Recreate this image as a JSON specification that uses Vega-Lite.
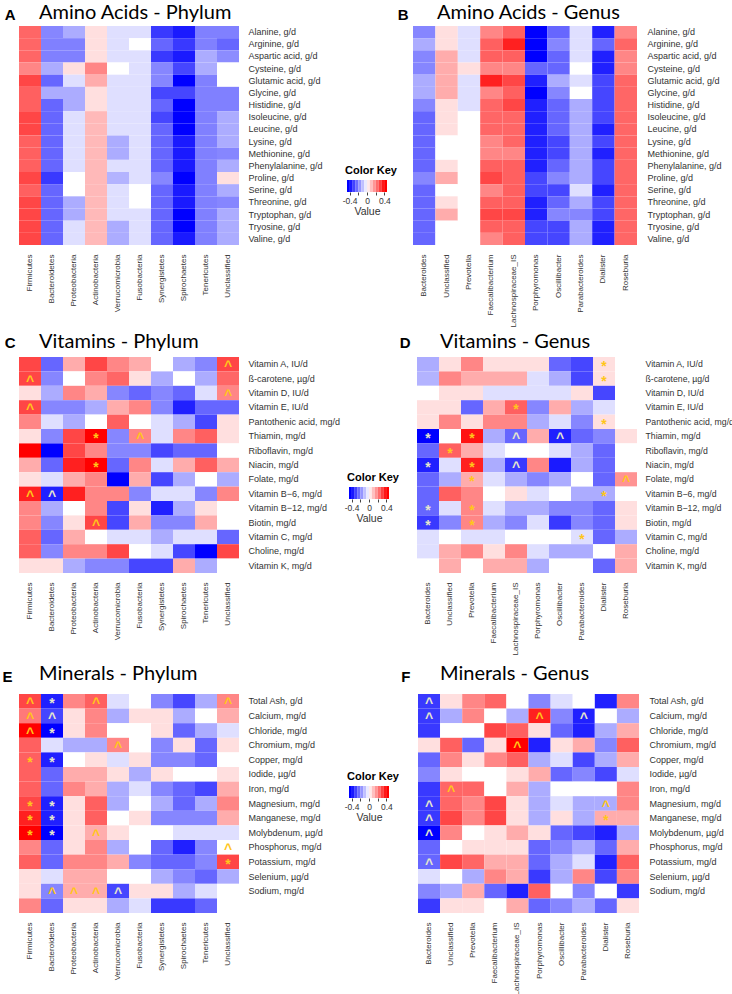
{
"$schema":"https://vega.github.io/schema/vega-lite/v6.json",
"autosize":{"type":"pad"},
"padding":{"left":1,"top":3,"right":0,"bottom":0},
"background":"white",
"config":{
 "view":{"stroke":null},
 "axis":{"grid":false,"ticks":false,"domain":false,"labelFont":"Liberation Sans","labelColor":"#333333","labelOverlap":false,"titleFont":"Liberation Sans"},
 "title":{"font":"Lato","fontSize":20,"fontWeight":"normal","color":"#000000","frame":"group","anchor":"start"}
},
"datasets":{
"key":[{"lo":-0.46,"hi":-0.394,"v":-0.427},{"lo":-0.394,"hi":-0.329,"v":-0.362},{"lo":-0.329,"hi":-0.263,"v":-0.296},{"lo":-0.263,"hi":-0.197,"v":-0.23},{"lo":-0.197,"hi":-0.131,"v":-0.164},{"lo":-0.131,"hi":-0.066,"v":-0.099},{"lo":-0.066,"hi":0,"v":-0.033},{"lo":0,"hi":0.066,"v":0.033},{"lo":0.066,"hi":0.131,"v":0.099},{"lo":0.131,"hi":0.197,"v":0.164},{"lo":0.197,"hi":0.263,"v":0.23},{"lo":0.263,"hi":0.329,"v":0.296},{"lo":0.329,"hi":0.394,"v":0.362},{"lo":0.394,"hi":0.46,"v":0.427}],
"A":[
{"r":1,"c":1,"v":0.24},{"r":1,"c":2,"v":-0.19},{"r":1,"c":3,"v":-0.13},{"r":1,"c":4,"v":0.05},{"r":1,"c":5,"v":-0.05},{"r":1,"c":6,"v":-0.05},{"r":1,"c":7,"v":-0.31},{"r":1,"c":8,"v":-0.36},{"r":1,"c":9,"v":-0.2},{"r":1,"c":10,"v":-0.2},
{"r":2,"c":1,"v":0.24},{"r":2,"c":2,"v":-0.2},{"r":2,"c":3,"v":-0.2},{"r":2,"c":4,"v":0.05},{"r":2,"c":5,"v":-0.05},{"r":2,"c":6,"v":0},{"r":2,"c":7,"v":-0.24},{"r":2,"c":8,"v":-0.31},{"r":2,"c":9,"v":-0.2},{"r":2,"c":10,"v":-0.24},
{"r":3,"c":1,"v":0.24},{"r":3,"c":2,"v":-0.2},{"r":3,"c":3,"v":-0.2},{"r":3,"c":4,"v":0.05},{"r":3,"c":5,"v":-0.05},{"r":3,"c":6,"v":-0.05},{"r":3,"c":7,"v":-0.31},{"r":3,"c":8,"v":-0.36},{"r":3,"c":9,"v":-0.13},{"r":3,"c":10,"v":-0.18},
{"r":4,"c":1,"v":0.19},{"r":4,"c":2,"v":-0.13},{"r":4,"c":3,"v":0.05},{"r":4,"c":4,"v":0.19},{"r":4,"c":5,"v":0},{"r":4,"c":6,"v":-0.05},{"r":4,"c":7,"v":-0.19},{"r":4,"c":8,"v":-0.29},{"r":4,"c":9,"v":-0.13},{"r":4,"c":10,"v":0},
{"r":5,"c":1,"v":0.29},{"r":5,"c":2,"v":-0.24},{"r":5,"c":3,"v":-0.05},{"r":5,"c":4,"v":0.13},{"r":5,"c":5,"v":-0.05},{"r":5,"c":6,"v":-0.05},{"r":5,"c":7,"v":-0.19},{"r":5,"c":8,"v":-0.4},{"r":5,"c":9,"v":-0.2},{"r":5,"c":10,"v":0},
{"r":6,"c":1,"v":0.25},{"r":6,"c":2,"v":-0.13},{"r":6,"c":3,"v":-0.13},{"r":6,"c":4,"v":0.05},{"r":6,"c":5,"v":-0.05},{"r":6,"c":6,"v":-0.05},{"r":6,"c":7,"v":-0.29},{"r":6,"c":8,"v":-0.29},{"r":6,"c":9,"v":-0.2},{"r":6,"c":10,"v":-0.2},
{"r":7,"c":1,"v":0.25},{"r":7,"c":2,"v":-0.24},{"r":7,"c":3,"v":-0.13},{"r":7,"c":4,"v":0.05},{"r":7,"c":5,"v":-0.05},{"r":7,"c":6,"v":-0.05},{"r":7,"c":7,"v":-0.24},{"r":7,"c":8,"v":-0.4},{"r":7,"c":9,"v":-0.2},{"r":7,"c":10,"v":-0.2},
{"r":8,"c":1,"v":0.29},{"r":8,"c":2,"v":-0.24},{"r":8,"c":3,"v":-0.05},{"r":8,"c":4,"v":0.11},{"r":8,"c":5,"v":-0.05},{"r":8,"c":6,"v":-0.05},{"r":8,"c":7,"v":-0.29},{"r":8,"c":8,"v":-0.4},{"r":8,"c":9,"v":-0.2},{"r":8,"c":10,"v":-0.13},
{"r":9,"c":1,"v":0.29},{"r":9,"c":2,"v":-0.24},{"r":9,"c":3,"v":-0.05},{"r":9,"c":4,"v":0.11},{"r":9,"c":5,"v":-0.05},{"r":9,"c":6,"v":-0.05},{"r":9,"c":7,"v":-0.24},{"r":9,"c":8,"v":-0.4},{"r":9,"c":9,"v":-0.2},{"r":9,"c":10,"v":-0.13},
{"r":10,"c":1,"v":0.25},{"r":10,"c":2,"v":-0.24},{"r":10,"c":3,"v":-0.05},{"r":10,"c":4,"v":0.11},{"r":10,"c":5,"v":-0.13},{"r":10,"c":6,"v":-0.05},{"r":10,"c":7,"v":-0.24},{"r":10,"c":8,"v":-0.36},{"r":10,"c":9,"v":-0.2},{"r":10,"c":10,"v":-0.13},
{"r":11,"c":1,"v":0.25},{"r":11,"c":2,"v":-0.24},{"r":11,"c":3,"v":-0.05},{"r":11,"c":4,"v":0.11},{"r":11,"c":5,"v":-0.13},{"r":11,"c":6,"v":-0.05},{"r":11,"c":7,"v":-0.24},{"r":11,"c":8,"v":-0.36},{"r":11,"c":9,"v":-0.2},{"r":11,"c":10,"v":-0.19},
{"r":12,"c":1,"v":0.25},{"r":12,"c":2,"v":-0.24},{"r":12,"c":3,"v":-0.05},{"r":12,"c":4,"v":0.11},{"r":12,"c":5,"v":-0.05},{"r":12,"c":6,"v":-0.05},{"r":12,"c":7,"v":-0.24},{"r":12,"c":8,"v":-0.36},{"r":12,"c":9,"v":-0.2},{"r":12,"c":10,"v":-0.13},
{"r":13,"c":1,"v":0.29},{"r":13,"c":2,"v":-0.31},{"r":13,"c":3,"v":0},{"r":13,"c":4,"v":0.11},{"r":13,"c":5,"v":-0.12},{"r":13,"c":6,"v":-0.05},{"r":13,"c":7,"v":-0.19},{"r":13,"c":8,"v":-0.4},{"r":13,"c":9,"v":-0.2},{"r":13,"c":10,"v":0.05},
{"r":14,"c":1,"v":0.25},{"r":14,"c":2,"v":-0.24},{"r":14,"c":3,"v":0},{"r":14,"c":4,"v":0.11},{"r":14,"c":5,"v":-0.05},{"r":14,"c":6,"v":0},{"r":14,"c":7,"v":-0.24},{"r":14,"c":8,"v":-0.36},{"r":14,"c":9,"v":-0.2},{"r":14,"c":10,"v":-0.13},
{"r":15,"c":1,"v":0.29},{"r":15,"c":2,"v":-0.24},{"r":15,"c":3,"v":-0.13},{"r":15,"c":4,"v":0.11},{"r":15,"c":5,"v":-0.05},{"r":15,"c":6,"v":0},{"r":15,"c":7,"v":-0.24},{"r":15,"c":8,"v":-0.36},{"r":15,"c":9,"v":-0.2},{"r":15,"c":10,"v":-0.19},
{"r":16,"c":1,"v":0.29},{"r":16,"c":2,"v":-0.24},{"r":16,"c":3,"v":-0.13},{"r":16,"c":4,"v":0.11},{"r":16,"c":5,"v":-0.05},{"r":16,"c":6,"v":-0.05},{"r":16,"c":7,"v":-0.24},{"r":16,"c":8,"v":-0.4},{"r":16,"c":9,"v":-0.2},{"r":16,"c":10,"v":-0.13},
{"r":17,"c":1,"v":0.29},{"r":17,"c":2,"v":-0.24},{"r":17,"c":3,"v":-0.05},{"r":17,"c":4,"v":0.11},{"r":17,"c":5,"v":-0.13},{"r":17,"c":6,"v":-0.05},{"r":17,"c":7,"v":-0.24},{"r":17,"c":8,"v":-0.4},{"r":17,"c":9,"v":-0.2},{"r":17,"c":10,"v":-0.13},
{"r":18,"c":1,"v":0.29},{"r":18,"c":2,"v":-0.24},{"r":18,"c":3,"v":-0.05},{"r":18,"c":4,"v":0.11},{"r":18,"c":5,"v":-0.13},{"r":18,"c":6,"v":-0.05},{"r":18,"c":7,"v":-0.24},{"r":18,"c":8,"v":-0.36},{"r":18,"c":9,"v":-0.2},{"r":18,"c":10,"v":-0.13}
],
"B":[
{"r":1,"c":1,"v":-0.19},{"r":1,"c":2,"v":0.05},{"r":1,"c":3,"v":-0.05},{"r":1,"c":4,"v":0.19},{"r":1,"c":5,"v":0.25},{"r":1,"c":6,"v":-0.4},{"r":1,"c":7,"v":-0.24},{"r":1,"c":8,"v":-0.05},{"r":1,"c":9,"v":-0.35},{"r":1,"c":10,"v":0.19},
{"r":2,"c":1,"v":-0.13},{"r":2,"c":2,"v":0.05},{"r":2,"c":3,"v":-0.05},{"r":2,"c":4,"v":0.25},{"r":2,"c":5,"v":0.35},{"r":2,"c":6,"v":-0.4},{"r":2,"c":7,"v":-0.19},{"r":2,"c":8,"v":-0.05},{"r":2,"c":9,"v":-0.24},{"r":2,"c":10,"v":0.24},
{"r":3,"c":1,"v":-0.19},{"r":3,"c":2,"v":0.13},{"r":3,"c":3,"v":-0.05},{"r":3,"c":4,"v":0.25},{"r":3,"c":5,"v":0.25},{"r":3,"c":6,"v":-0.4},{"r":3,"c":7,"v":-0.24},{"r":3,"c":8,"v":-0.05},{"r":3,"c":9,"v":-0.35},{"r":3,"c":10,"v":0.19},
{"r":4,"c":1,"v":-0.19},{"r":4,"c":2,"v":0.13},{"r":4,"c":3,"v":0.05},{"r":4,"c":4,"v":0.19},{"r":4,"c":5,"v":0.19},{"r":4,"c":6,"v":-0.24},{"r":4,"c":7,"v":-0.24},{"r":4,"c":8,"v":0},{"r":4,"c":9,"v":-0.35},{"r":4,"c":10,"v":0.19},
{"r":5,"c":1,"v":-0.13},{"r":5,"c":2,"v":0.13},{"r":5,"c":3,"v":-0.05},{"r":5,"c":4,"v":0.35},{"r":5,"c":5,"v":0.29},{"r":5,"c":6,"v":-0.35},{"r":5,"c":7,"v":-0.13},{"r":5,"c":8,"v":-0.05},{"r":5,"c":9,"v":-0.29},{"r":5,"c":10,"v":0.24},
{"r":6,"c":1,"v":-0.13},{"r":6,"c":2,"v":0.13},{"r":6,"c":3,"v":-0.05},{"r":6,"c":4,"v":0.19},{"r":6,"c":5,"v":0.25},{"r":6,"c":6,"v":-0.4},{"r":6,"c":7,"v":-0.19},{"r":6,"c":8,"v":0},{"r":6,"c":9,"v":-0.29},{"r":6,"c":10,"v":0.24},
{"r":7,"c":1,"v":-0.19},{"r":7,"c":2,"v":0.05},{"r":7,"c":3,"v":-0.05},{"r":7,"c":4,"v":0.24},{"r":7,"c":5,"v":0.29},{"r":7,"c":6,"v":-0.35},{"r":7,"c":7,"v":-0.24},{"r":7,"c":8,"v":-0.13},{"r":7,"c":9,"v":-0.29},{"r":7,"c":10,"v":0.24},
{"r":8,"c":1,"v":-0.24},{"r":8,"c":2,"v":0.05},{"r":8,"c":3,"v":0},{"r":8,"c":4,"v":0.24},{"r":8,"c":5,"v":0.24},{"r":8,"c":6,"v":-0.35},{"r":8,"c":7,"v":-0.24},{"r":8,"c":8,"v":-0.13},{"r":8,"c":9,"v":-0.29},{"r":8,"c":10,"v":0.24},
{"r":9,"c":1,"v":-0.24},{"r":9,"c":2,"v":0.05},{"r":9,"c":3,"v":0},{"r":9,"c":4,"v":0.24},{"r":9,"c":5,"v":0.24},{"r":9,"c":6,"v":-0.35},{"r":9,"c":7,"v":-0.24},{"r":9,"c":8,"v":-0.13},{"r":9,"c":9,"v":-0.35},{"r":9,"c":10,"v":0.24},
{"r":10,"c":1,"v":-0.24},{"r":10,"c":2,"v":0},{"r":10,"c":3,"v":0},{"r":10,"c":4,"v":0.19},{"r":10,"c":5,"v":0.24},{"r":10,"c":6,"v":-0.35},{"r":10,"c":7,"v":-0.29},{"r":10,"c":8,"v":-0.13},{"r":10,"c":9,"v":-0.29},{"r":10,"c":10,"v":0.24},
{"r":11,"c":1,"v":-0.24},{"r":11,"c":2,"v":0},{"r":11,"c":3,"v":0},{"r":11,"c":4,"v":0.19},{"r":11,"c":5,"v":0.19},{"r":11,"c":6,"v":-0.35},{"r":11,"c":7,"v":-0.29},{"r":11,"c":8,"v":-0.13},{"r":11,"c":9,"v":-0.35},{"r":11,"c":10,"v":0.24},
{"r":12,"c":1,"v":-0.24},{"r":12,"c":2,"v":0.05},{"r":12,"c":3,"v":0},{"r":12,"c":4,"v":0.25},{"r":12,"c":5,"v":0.25},{"r":12,"c":6,"v":-0.35},{"r":12,"c":7,"v":-0.24},{"r":12,"c":8,"v":-0.13},{"r":12,"c":9,"v":-0.29},{"r":12,"c":10,"v":0.24},
{"r":13,"c":1,"v":-0.19},{"r":13,"c":2,"v":0.13},{"r":13,"c":3,"v":0},{"r":13,"c":4,"v":0.29},{"r":13,"c":5,"v":0.25},{"r":13,"c":6,"v":-0.29},{"r":13,"c":7,"v":-0.19},{"r":13,"c":8,"v":-0.13},{"r":13,"c":9,"v":-0.29},{"r":13,"c":10,"v":0.24},
{"r":14,"c":1,"v":-0.24},{"r":14,"c":2,"v":0},{"r":14,"c":3,"v":0},{"r":14,"c":4,"v":0.19},{"r":14,"c":5,"v":0.25},{"r":14,"c":6,"v":-0.29},{"r":14,"c":7,"v":-0.29},{"r":14,"c":8,"v":-0.05},{"r":14,"c":9,"v":-0.35},{"r":14,"c":10,"v":0.24},
{"r":15,"c":1,"v":-0.24},{"r":15,"c":2,"v":0.05},{"r":15,"c":3,"v":0},{"r":15,"c":4,"v":0.25},{"r":15,"c":5,"v":0.25},{"r":15,"c":6,"v":-0.35},{"r":15,"c":7,"v":-0.24},{"r":15,"c":8,"v":-0.13},{"r":15,"c":9,"v":-0.29},{"r":15,"c":10,"v":0.24},
{"r":16,"c":1,"v":-0.24},{"r":16,"c":2,"v":0.13},{"r":16,"c":3,"v":0},{"r":16,"c":4,"v":0.29},{"r":16,"c":5,"v":0.29},{"r":16,"c":6,"v":-0.35},{"r":16,"c":7,"v":-0.19},{"r":16,"c":8,"v":-0.19},{"r":16,"c":9,"v":-0.29},{"r":16,"c":10,"v":0.24},
{"r":17,"c":1,"v":-0.24},{"r":17,"c":2,"v":0},{"r":17,"c":3,"v":0},{"r":17,"c":4,"v":0.25},{"r":17,"c":5,"v":0.25},{"r":17,"c":6,"v":-0.29},{"r":17,"c":7,"v":-0.29},{"r":17,"c":8,"v":-0.13},{"r":17,"c":9,"v":-0.35},{"r":17,"c":10,"v":0.24},
{"r":18,"c":1,"v":-0.24},{"r":18,"c":2,"v":0},{"r":18,"c":3,"v":0},{"r":18,"c":4,"v":0.19},{"r":18,"c":5,"v":0.25},{"r":18,"c":6,"v":-0.29},{"r":18,"c":7,"v":-0.29},{"r":18,"c":8,"v":-0.13},{"r":18,"c":9,"v":-0.35},{"r":18,"c":10,"v":0.24}
],
"C":[
{"r":1,"c":1,"v":0.29},{"r":1,"c":2,"v":-0.24},{"r":1,"c":3,"v":0.13},{"r":1,"c":4,"v":0.29},{"r":1,"c":5,"v":0.19},{"r":1,"c":6,"v":0.13},{"r":1,"c":7,"v":0},{"r":1,"c":8,"v":-0.13},{"r":1,"c":9,"v":-0.19},{"r":1,"c":10,"v":0.29,"s":"^"},
{"r":2,"c":1,"v":0.29,"s":"^"},{"r":2,"c":2,"v":-0.19},{"r":2,"c":3,"v":0},{"r":2,"c":4,"v":0.19},{"r":2,"c":5,"v":0.24},{"r":2,"c":6,"v":0.05},{"r":2,"c":7,"v":-0.13},{"r":2,"c":8,"v":0},{"r":2,"c":9,"v":-0.13},{"r":2,"c":10,"v":0.24},
{"r":3,"c":1,"v":0.05},{"r":3,"c":2,"v":-0.13},{"r":3,"c":3,"v":0.19},{"r":3,"c":4,"v":0.13},{"r":3,"c":5,"v":-0.19},{"r":3,"c":6,"v":-0.24},{"r":3,"c":7,"v":-0.19},{"r":3,"c":8,"v":-0.24},{"r":3,"c":9,"v":-0.05},{"r":3,"c":10,"v":0.19,"s":"^"},
{"r":4,"c":1,"v":0.29,"s":"^"},{"r":4,"c":2,"v":-0.19},{"r":4,"c":3,"v":-0.19},{"r":4,"c":4,"v":-0.13},{"r":4,"c":5,"v":0.13},{"r":4,"c":6,"v":0.19},{"r":4,"c":7,"v":-0.19},{"r":4,"c":8,"v":-0.35},{"r":4,"c":9,"v":-0.24},{"r":4,"c":10,"v":-0.24},
{"r":5,"c":1,"v":0.19},{"r":5,"c":2,"v":-0.05},{"r":5,"c":3,"v":-0.13},{"r":5,"c":4,"v":0},{"r":5,"c":5,"v":0.25},{"r":5,"c":6,"v":0},{"r":5,"c":7,"v":-0.05},{"r":5,"c":8,"v":-0.13},{"r":5,"c":9,"v":-0.29},{"r":5,"c":10,"v":0.05},
{"r":6,"c":1,"v":0.05},{"r":6,"c":2,"v":-0.19},{"r":6,"c":3,"v":0.29},{"r":6,"c":4,"v":0.4,"s":"*"},{"r":6,"c":5,"v":-0.19},{"r":6,"c":6,"v":0.19,"s":"^"},{"r":6,"c":7,"v":-0.05},{"r":6,"c":8,"v":0.19},{"r":6,"c":9,"v":0.25},{"r":6,"c":10,"v":0.05},
{"r":7,"c":1,"v":0.4},{"r":7,"c":2,"v":-0.4},{"r":7,"c":3,"v":0.29},{"r":7,"c":4,"v":0.19},{"r":7,"c":5,"v":-0.19},{"r":7,"c":6,"v":-0.19},{"r":7,"c":7,"v":-0.29},{"r":7,"c":8,"v":-0.24},{"r":7,"c":9,"v":-0.24},{"r":7,"c":10,"v":0},
{"r":8,"c":1,"v":0.13},{"r":8,"c":2,"v":-0.24},{"r":8,"c":3,"v":0.35},{"r":8,"c":4,"v":0.4,"s":"*"},{"r":8,"c":5,"v":-0.24},{"r":8,"c":6,"v":0.19},{"r":8,"c":7,"v":-0.05},{"r":8,"c":8,"v":0.13},{"r":8,"c":9,"v":0.25},{"r":8,"c":10,"v":0.13},
{"r":9,"c":1,"v":0.05},{"r":9,"c":2,"v":-0.05},{"r":9,"c":3,"v":0.13},{"r":9,"c":4,"v":0.19},{"r":9,"c":5,"v":-0.4},{"r":9,"c":6,"v":0.13},{"r":9,"c":7,"v":-0.29},{"r":9,"c":8,"v":-0.13},{"r":9,"c":9,"v":0},{"r":9,"c":10,"v":-0.13},
{"r":10,"c":1,"v":0.35,"s":"^"},{"r":10,"c":2,"v":-0.35,"s":"^"},{"r":10,"c":3,"v":0.35},{"r":10,"c":4,"v":0.19},{"r":10,"c":5,"v":0.19},{"r":10,"c":6,"v":-0.19},{"r":10,"c":7,"v":-0.05},{"r":10,"c":8,"v":-0.05},{"r":10,"c":9,"v":-0.19},{"r":10,"c":10,"v":0.19},
{"r":11,"c":1,"v":0.19},{"r":11,"c":2,"v":-0.13},{"r":11,"c":3,"v":0},{"r":11,"c":4,"v":0.19},{"r":11,"c":5,"v":-0.29},{"r":11,"c":6,"v":0.05},{"r":11,"c":7,"v":-0.35},{"r":11,"c":8,"v":-0.13},{"r":11,"c":9,"v":0.05},{"r":11,"c":10,"v":0},
{"r":12,"c":1,"v":0.19},{"r":12,"c":2,"v":-0.19},{"r":12,"c":3,"v":0.05},{"r":12,"c":4,"v":0.29,"s":"^"},{"r":12,"c":5,"v":-0.29},{"r":12,"c":6,"v":0.13},{"r":12,"c":7,"v":-0.19},{"r":12,"c":8,"v":-0.19},{"r":12,"c":9,"v":0.13},{"r":12,"c":10,"v":0},
{"r":13,"c":1,"v":0.25},{"r":13,"c":2,"v":-0.24},{"r":13,"c":3,"v":0.13},{"r":13,"c":4,"v":0},{"r":13,"c":5,"v":-0.05},{"r":13,"c":6,"v":-0.05},{"r":13,"c":7,"v":-0.13},{"r":13,"c":8,"v":-0.05},{"r":13,"c":9,"v":-0.05},{"r":13,"c":10,"v":-0.24},
{"r":14,"c":1,"v":0.25},{"r":14,"c":2,"v":-0.19},{"r":14,"c":3,"v":0.19},{"r":14,"c":4,"v":0.19},{"r":14,"c":5,"v":0.29},{"r":14,"c":6,"v":0},{"r":14,"c":7,"v":-0.05},{"r":14,"c":8,"v":-0.29},{"r":14,"c":9,"v":-0.4},{"r":14,"c":10,"v":0.29},
{"r":15,"c":1,"v":0.05},{"r":15,"c":2,"v":0.05},{"r":15,"c":3,"v":-0.13},{"r":15,"c":4,"v":-0.19},{"r":15,"c":5,"v":-0.19},{"r":15,"c":6,"v":-0.29},{"r":15,"c":7,"v":-0.29},{"r":15,"c":8,"v":0.13},{"r":15,"c":9,"v":-0.13},{"r":15,"c":10,"v":0}
],
"D":[
{"r":1,"c":1,"v":-0.13},{"r":1,"c":2,"v":0.05},{"r":1,"c":3,"v":0.19},{"r":1,"c":4,"v":0.05},{"r":1,"c":5,"v":0.05},{"r":1,"c":6,"v":0.05},{"r":1,"c":7,"v":-0.24},{"r":1,"c":8,"v":-0.29},{"r":1,"c":9,"v":0.05,"s":"*"},{"r":1,"c":10,"v":0},
{"r":2,"c":1,"v":-0.12},{"r":2,"c":2,"v":0.19},{"r":2,"c":3,"v":0.13},{"r":2,"c":4,"v":0.13},{"r":2,"c":5,"v":0.13},{"r":2,"c":6,"v":-0.05},{"r":2,"c":7,"v":-0.13},{"r":2,"c":8,"v":-0.29},{"r":2,"c":9,"v":0.05,"s":"*"},{"r":2,"c":10,"v":0},
{"r":3,"c":1,"v":0},{"r":3,"c":2,"v":0.05},{"r":3,"c":3,"v":0.05},{"r":3,"c":4,"v":-0.05},{"r":3,"c":5,"v":-0.05},{"r":3,"c":6,"v":-0.05},{"r":3,"c":7,"v":-0.05},{"r":3,"c":8,"v":0.05},{"r":3,"c":9,"v":-0.29},{"r":3,"c":10,"v":0},
{"r":4,"c":1,"v":0.05},{"r":4,"c":2,"v":0.05},{"r":4,"c":3,"v":-0.24},{"r":4,"c":4,"v":0.13},{"r":4,"c":5,"v":0.25,"s":"*"},{"r":4,"c":6,"v":-0.19},{"r":4,"c":7,"v":0.13},{"r":4,"c":8,"v":-0.13},{"r":4,"c":9,"v":-0.05},{"r":4,"c":10,"v":0},
{"r":5,"c":1,"v":0.05},{"r":5,"c":2,"v":0.19},{"r":5,"c":3,"v":0.05},{"r":5,"c":4,"v":0.19},{"r":5,"c":5,"v":0.19},{"r":5,"c":6,"v":-0.13},{"r":5,"c":7,"v":-0.05},{"r":5,"c":8,"v":-0.19},{"r":5,"c":9,"v":0.05,"s":"*"},{"r":5,"c":10,"v":0},
{"r":6,"c":1,"v":-0.4,"s":"*"},{"r":6,"c":2,"v":0},{"r":6,"c":3,"v":0.37,"s":"*"},{"r":6,"c":4,"v":-0.13},{"r":6,"c":5,"v":-0.24,"s":"^"},{"r":6,"c":6,"v":0.13},{"r":6,"c":7,"v":-0.35,"s":"^"},{"r":6,"c":8,"v":-0.24},{"r":6,"c":9,"v":-0.19},{"r":6,"c":10,"v":0.05},
{"r":7,"c":1,"v":-0.24},{"r":7,"c":2,"v":0.25,"s":"*"},{"r":7,"c":3,"v":0.13},{"r":7,"c":4,"v":-0.05},{"r":7,"c":5,"v":0},{"r":7,"c":6,"v":0},{"r":7,"c":7,"v":-0.05},{"r":7,"c":8,"v":-0.13},{"r":7,"c":9,"v":-0.24},{"r":7,"c":10,"v":0},
{"r":8,"c":1,"v":-0.35,"s":"*"},{"r":8,"c":2,"v":-0.05},{"r":8,"c":3,"v":0.35,"s":"*"},{"r":8,"c":4,"v":-0.13},{"r":8,"c":5,"v":-0.31,"s":"^"},{"r":8,"c":6,"v":0.19},{"r":8,"c":7,"v":-0.36},{"r":8,"c":8,"v":-0.13},{"r":8,"c":9,"v":-0.24},{"r":8,"c":10,"v":0},
{"r":9,"c":1,"v":-0.24},{"r":9,"c":2,"v":-0.13},{"r":9,"c":3,"v":0.13,"s":"*"},{"r":9,"c":4,"v":-0.05},{"r":9,"c":5,"v":-0.13},{"r":9,"c":6,"v":-0.19},{"r":9,"c":7,"v":-0.13},{"r":9,"c":8,"v":0},{"r":9,"c":9,"v":-0.24},{"r":9,"c":10,"v":0.17,"s":"^"},
{"r":10,"c":1,"v":-0.24},{"r":10,"c":2,"v":0.25},{"r":10,"c":3,"v":0.19},{"r":10,"c":4,"v":0},{"r":10,"c":5,"v":0.05},{"r":10,"c":6,"v":-0.05},{"r":10,"c":7,"v":0},{"r":10,"c":8,"v":-0.13},{"r":10,"c":9,"v":-0.13,"s":"*"},{"r":10,"c":10,"v":0},
{"r":11,"c":1,"v":-0.24,"s":"*"},{"r":11,"c":2,"v":-0.05},{"r":11,"c":3,"v":0.19,"s":"*"},{"r":11,"c":4,"v":-0.05},{"r":11,"c":5,"v":-0.13},{"r":11,"c":6,"v":-0.13},{"r":11,"c":7,"v":-0.19},{"r":11,"c":8,"v":-0.19},{"r":11,"c":9,"v":-0.24},{"r":11,"c":10,"v":0.05},
{"r":12,"c":1,"v":-0.31,"s":"*"},{"r":12,"c":2,"v":-0.19},{"r":12,"c":3,"v":0.19,"s":"*"},{"r":12,"c":4,"v":-0.13},{"r":12,"c":5,"v":-0.19},{"r":12,"c":6,"v":-0.05},{"r":12,"c":7,"v":-0.31},{"r":12,"c":8,"v":-0.19},{"r":12,"c":9,"v":-0.24},{"r":12,"c":10,"v":0.05},
{"r":13,"c":1,"v":-0.05},{"r":13,"c":2,"v":0},{"r":13,"c":3,"v":-0.05},{"r":13,"c":4,"v":-0.05},{"r":13,"c":5,"v":0},{"r":13,"c":6,"v":0},{"r":13,"c":7,"v":0},{"r":13,"c":8,"v":-0.05,"s":"*"},{"r":13,"c":9,"v":-0.24},{"r":13,"c":10,"v":-0.13},
{"r":14,"c":1,"v":-0.05},{"r":14,"c":2,"v":0.13},{"r":14,"c":3,"v":0.19},{"r":14,"c":4,"v":0.05},{"r":14,"c":5,"v":0.19},{"r":14,"c":6,"v":-0.05},{"r":14,"c":7,"v":-0.13},{"r":14,"c":8,"v":-0.13},{"r":14,"c":9,"v":0},{"r":14,"c":10,"v":0.13},
{"r":15,"c":1,"v":0},{"r":15,"c":2,"v":0.13},{"r":15,"c":3,"v":0},{"r":15,"c":4,"v":0.13},{"r":15,"c":5,"v":0.13},{"r":15,"c":6,"v":-0.13},{"r":15,"c":7,"v":0},{"r":15,"c":8,"v":0},{"r":15,"c":9,"v":-0.24},{"r":15,"c":10,"v":0.13}
],
"E":[
{"r":1,"c":1,"v":0.29,"s":"^"},{"r":1,"c":2,"v":-0.35,"s":"*"},{"r":1,"c":3,"v":0.19},{"r":1,"c":4,"v":0.25,"s":"^"},{"r":1,"c":5,"v":-0.05},{"r":1,"c":6,"v":0},{"r":1,"c":7,"v":-0.19},{"r":1,"c":8,"v":-0.29},{"r":1,"c":9,"v":-0.13},{"r":1,"c":10,"v":0.19,"s":"^"},
{"r":2,"c":1,"v":0.21,"s":"^"},{"r":2,"c":2,"v":-0.29,"s":"^"},{"r":2,"c":3,"v":0.05},{"r":2,"c":4,"v":0.19},{"r":2,"c":5,"v":-0.13},{"r":2,"c":6,"v":0.05},{"r":2,"c":7,"v":0.05},{"r":2,"c":8,"v":-0.13},{"r":2,"c":9,"v":0},{"r":2,"c":10,"v":0.13},
{"r":3,"c":1,"v":0.4,"s":"^"},{"r":3,"c":2,"v":-0.4,"s":"*"},{"r":3,"c":3,"v":0.05},{"r":3,"c":4,"v":0.19},{"r":3,"c":5,"v":0},{"r":3,"c":6,"v":0},{"r":3,"c":7,"v":0.05},{"r":3,"c":8,"v":-0.24},{"r":3,"c":9,"v":-0.13},{"r":3,"c":10,"v":-0.05},
{"r":4,"c":1,"v":0.25},{"r":4,"c":2,"v":-0.05},{"r":4,"c":3,"v":-0.13},{"r":4,"c":4,"v":-0.13},{"r":4,"c":5,"v":0.19,"s":"^"},{"r":4,"c":6,"v":0},{"r":4,"c":7,"v":-0.19},{"r":4,"c":8,"v":0.05},{"r":4,"c":9,"v":-0.24},{"r":4,"c":10,"v":0.05},
{"r":5,"c":1,"v":0.25,"s":"*"},{"r":5,"c":2,"v":-0.35,"s":"*"},{"r":5,"c":3,"v":0},{"r":5,"c":4,"v":0.05},{"r":5,"c":5,"v":-0.05},{"r":5,"c":6,"v":0.05},{"r":5,"c":7,"v":-0.19},{"r":5,"c":8,"v":-0.19},{"r":5,"c":9,"v":-0.24},{"r":5,"c":10,"v":0},
{"r":6,"c":1,"v":0.25},{"r":6,"c":2,"v":-0.24},{"r":6,"c":3,"v":0.13},{"r":6,"c":4,"v":0.13},{"r":6,"c":5,"v":0.05},{"r":6,"c":6,"v":-0.13},{"r":6,"c":7,"v":0.05},{"r":6,"c":8,"v":0},{"r":6,"c":9,"v":0},{"r":6,"c":10,"v":0.05},
{"r":7,"c":1,"v":0.25},{"r":7,"c":2,"v":-0.24},{"r":7,"c":3,"v":0.19},{"r":7,"c":4,"v":0.13},{"r":7,"c":5,"v":-0.13},{"r":7,"c":6,"v":-0.05},{"r":7,"c":7,"v":-0.19},{"r":7,"c":8,"v":-0.24},{"r":7,"c":9,"v":-0.29},{"r":7,"c":10,"v":0.13},
{"r":8,"c":1,"v":0.29,"s":"*"},{"r":8,"c":2,"v":-0.35,"s":"*"},{"r":8,"c":3,"v":0.05},{"r":8,"c":4,"v":0.25},{"r":8,"c":5,"v":-0.13},{"r":8,"c":6,"v":0},{"r":8,"c":7,"v":-0.13},{"r":8,"c":8,"v":-0.24},{"r":8,"c":9,"v":-0.13},{"r":8,"c":10,"v":0.19},
{"r":9,"c":1,"v":0.35,"s":"*"},{"r":9,"c":2,"v":-0.35,"s":"*"},{"r":9,"c":3,"v":0.05},{"r":9,"c":4,"v":0.25},{"r":9,"c":5,"v":0},{"r":9,"c":6,"v":0.05},{"r":9,"c":7,"v":-0.19},{"r":9,"c":8,"v":-0.19},{"r":9,"c":9,"v":-0.19},{"r":9,"c":10,"v":0.13},
{"r":10,"c":1,"v":0.4,"s":"*"},{"r":10,"c":2,"v":-0.4,"s":"*"},{"r":10,"c":3,"v":0.05},{"r":10,"c":4,"v":0.13,"s":"^"},{"r":10,"c":5,"v":0.05},{"r":10,"c":6,"v":0},{"r":10,"c":7,"v":0},{"r":10,"c":8,"v":-0.05},{"r":10,"c":9,"v":-0.05},{"r":10,"c":10,"v":-0.05},
{"r":11,"c":1,"v":0.19},{"r":11,"c":2,"v":-0.24},{"r":11,"c":3,"v":0.05},{"r":11,"c":4,"v":0.19},{"r":11,"c":5,"v":-0.13},{"r":11,"c":6,"v":0},{"r":11,"c":7,"v":-0.24},{"r":11,"c":8,"v":-0.35},{"r":11,"c":9,"v":-0.19},{"r":11,"c":10,"v":0,"s":"^"},
{"r":12,"c":1,"v":0.25},{"r":12,"c":2,"v":-0.24},{"r":12,"c":3,"v":0.19},{"r":12,"c":4,"v":0.19},{"r":12,"c":5,"v":0.13},{"r":12,"c":6,"v":-0.19},{"r":12,"c":7,"v":-0.24},{"r":12,"c":8,"v":-0.24},{"r":12,"c":9,"v":-0.19},{"r":12,"c":10,"v":0.29,"s":"*"},
{"r":13,"c":1,"v":0.05},{"r":13,"c":2,"v":-0.05},{"r":13,"c":3,"v":0.13},{"r":13,"c":4,"v":0.13},{"r":13,"c":5,"v":0},{"r":13,"c":6,"v":0},{"r":13,"c":7,"v":-0.13},{"r":13,"c":8,"v":-0.19},{"r":13,"c":9,"v":-0.24},{"r":13,"c":10,"v":-0.13},
{"r":14,"c":1,"v":0.05},{"r":14,"c":2,"v":-0.19,"s":"^"},{"r":14,"c":3,"v":0.13,"s":"^"},{"r":14,"c":4,"v":0.13,"s":"^"},{"r":14,"c":5,"v":-0.29,"s":"^"},{"r":14,"c":6,"v":0.05},{"r":14,"c":7,"v":0.05},{"r":14,"c":8,"v":-0.13},{"r":14,"c":9,"v":-0.05},{"r":14,"c":10,"v":0},
{"r":15,"c":1,"v":0.19},{"r":15,"c":2,"v":-0.24},{"r":15,"c":3,"v":0.05},{"r":15,"c":4,"v":0.05},{"r":15,"c":5,"v":-0.13},{"r":15,"c":6,"v":-0.05},{"r":15,"c":7,"v":-0.31},{"r":15,"c":8,"v":-0.31},{"r":15,"c":9,"v":-0.24},{"r":15,"c":10,"v":0}
],
"F":[
{"r":1,"c":1,"v":-0.31,"s":"^"},{"r":1,"c":2,"v":0.05},{"r":1,"c":3,"v":0.19},{"r":1,"c":4,"v":0.24},{"r":1,"c":5,"v":0},{"r":1,"c":6,"v":-0.19},{"r":1,"c":7,"v":-0.05},{"r":1,"c":8,"v":0},{"r":1,"c":9,"v":-0.35},{"r":1,"c":10,"v":0.19},
{"r":2,"c":1,"v":-0.31,"s":"^"},{"r":2,"c":2,"v":-0.13},{"r":2,"c":3,"v":0.19},{"r":2,"c":4,"v":0},{"r":2,"c":5,"v":-0.13},{"r":2,"c":6,"v":0.35,"s":"^"},{"r":2,"c":7,"v":-0.19},{"r":2,"c":8,"v":-0.35,"s":"^"},{"r":2,"c":9,"v":0},{"r":2,"c":10,"v":-0.13},
{"r":3,"c":1,"v":-0.31},{"r":3,"c":2,"v":0},{"r":3,"c":3,"v":0},{"r":3,"c":4,"v":0.29},{"r":3,"c":5,"v":0.25},{"r":3,"c":6,"v":0.05},{"r":3,"c":7,"v":-0.24},{"r":3,"c":8,"v":-0.35},{"r":3,"c":9,"v":-0.13},{"r":3,"c":10,"v":0.13},
{"r":4,"c":1,"v":0.05},{"r":4,"c":2,"v":0.25},{"r":4,"c":3,"v":-0.24},{"r":4,"c":4,"v":0.05},{"r":4,"c":5,"v":0.4,"s":"^"},{"r":4,"c":6,"v":-0.35},{"r":4,"c":7,"v":0.05},{"r":4,"c":8,"v":0.13},{"r":4,"c":9,"v":-0.19},{"r":4,"c":10,"v":0.25},
{"r":5,"c":1,"v":-0.24},{"r":5,"c":2,"v":0.19},{"r":5,"c":3,"v":0.05},{"r":5,"c":4,"v":0.19},{"r":5,"c":5,"v":0.25},{"r":5,"c":6,"v":-0.13},{"r":5,"c":7,"v":-0.05},{"r":5,"c":8,"v":-0.29},{"r":5,"c":9,"v":-0.13},{"r":5,"c":10,"v":0.13},
{"r":6,"c":1,"v":-0.19},{"r":6,"c":2,"v":0.05},{"r":6,"c":3,"v":0},{"r":6,"c":4,"v":0},{"r":6,"c":5,"v":0.05},{"r":6,"c":6,"v":0.13},{"r":6,"c":7,"v":-0.24},{"r":6,"c":8,"v":-0.19},{"r":6,"c":9,"v":-0.29},{"r":6,"c":10,"v":-0.05},
{"r":7,"c":1,"v":-0.31},{"r":7,"c":2,"v":0.24,"s":"^"},{"r":7,"c":3,"v":0.24},{"r":7,"c":4,"v":0},{"r":7,"c":5,"v":0.13},{"r":7,"c":6,"v":-0.13},{"r":7,"c":7,"v":0},{"r":7,"c":8,"v":0},{"r":7,"c":9,"v":0},{"r":7,"c":10,"v":0.19},
{"r":8,"c":1,"v":-0.31,"s":"^"},{"r":8,"c":2,"v":0.24},{"r":8,"c":3,"v":0.19},{"r":8,"c":4,"v":0.29},{"r":8,"c":5,"v":0.05},{"r":8,"c":6,"v":-0.13},{"r":8,"c":7,"v":-0.05},{"r":8,"c":8,"v":-0.13},{"r":8,"c":9,"v":-0.13,"s":"^"},{"r":8,"c":10,"v":0.19},
{"r":9,"c":1,"v":-0.31,"s":"^"},{"r":9,"c":2,"v":0.29},{"r":9,"c":3,"v":0.19},{"r":9,"c":4,"v":0.29},{"r":9,"c":5,"v":0.05},{"r":9,"c":6,"v":-0.13},{"r":9,"c":7,"v":0.05},{"r":9,"c":8,"v":-0.13},{"r":9,"c":9,"v":0.13,"s":"*"},{"r":9,"c":10,"v":0.13},
{"r":10,"c":1,"v":-0.4,"s":"^"},{"r":10,"c":2,"v":0.19},{"r":10,"c":3,"v":0},{"r":10,"c":4,"v":0.05},{"r":10,"c":5,"v":0.13},{"r":10,"c":6,"v":0.05},{"r":10,"c":7,"v":-0.24},{"r":10,"c":8,"v":-0.29},{"r":10,"c":9,"v":-0.35},{"r":10,"c":10,"v":-0.13},
{"r":11,"c":1,"v":-0.24},{"r":11,"c":2,"v":0},{"r":11,"c":3,"v":0.05},{"r":11,"c":4,"v":0.05},{"r":11,"c":5,"v":0.05},{"r":11,"c":6,"v":-0.24},{"r":11,"c":7,"v":-0.19},{"r":11,"c":8,"v":-0.13},{"r":11,"c":9,"v":-0.24},{"r":11,"c":10,"v":0.13},
{"r":12,"c":1,"v":-0.24,"s":"^"},{"r":12,"c":2,"v":0.29},{"r":12,"c":3,"v":0.24},{"r":12,"c":4,"v":0.13},{"r":12,"c":5,"v":0.13},{"r":12,"c":6,"v":-0.24},{"r":12,"c":7,"v":-0.13},{"r":12,"c":8,"v":-0.05},{"r":12,"c":9,"v":-0.35},{"r":12,"c":10,"v":0.25},
{"r":13,"c":1,"v":-0.05},{"r":13,"c":2,"v":0},{"r":13,"c":3,"v":-0.13},{"r":13,"c":4,"v":0.19},{"r":13,"c":5,"v":0.13},{"r":13,"c":6,"v":-0.31},{"r":13,"c":7,"v":-0.13},{"r":13,"c":8,"v":0.19},{"r":13,"c":9,"v":-0.29},{"r":13,"c":10,"v":0.19},
{"r":14,"c":1,"v":-0.19},{"r":14,"c":2,"v":-0.13},{"r":14,"c":3,"v":0.13},{"r":14,"c":4,"v":-0.24},{"r":14,"c":5,"v":-0.35},{"r":14,"c":6,"v":0.25},{"r":14,"c":7,"v":0},{"r":14,"c":8,"v":-0.19},{"r":14,"c":9,"v":0},{"r":14,"c":10,"v":-0.31},
{"r":15,"c":1,"v":-0.31},{"r":15,"c":2,"v":0.05},{"r":15,"c":3,"v":0.05},{"r":15,"c":4,"v":0},{"r":15,"c":5,"v":0.13},{"r":15,"c":6,"v":-0.24},{"r":15,"c":7,"v":-0.19},{"r":15,"c":8,"v":-0.13},{"r":15,"c":9,"v":-0.24},{"r":15,"c":10,"v":0.05}
]
},
"spacing":5,
"vconcat":[
{"spacing":19,"hconcat":[
 {"width":220,"height":219,"data":{"name":"A"},"title":{"text":"Amino Acids - Phylum","offset":-16,"dx":20},
  "encoding":{"x":{"field":"c","type":"ordinal","title":null,"axis":{"labelAngle":-90,"labelPadding":9,"labelFontSize":8,"labelExpr":"['Firmicutes','Bacteroidetes','Proteobacteria','Actinobacteria','Verrucomicrobia','Fusobacteria','Synergistetes','Spirochaetes','Tenericutes','Unclassified'][datum.value-1]"}}},
  "layer":[
   {"mark":"rect","encoding":{"y":{"field":"r","type":"ordinal","title":null,"axis":{"orient":"right","labelPadding":9,"labelFontSize":9,"labelExpr":"['Alanine, g/d','Arginine, g/d','Aspartic acid, g/d','Cysteine, g/d','Glutamic acid, g/d','Glycine, g/d','Histidine, g/d','Isoleucine, g/d','Leucine, g/d','Lysine, g/d','Methionine, g/d','Phenylalanine, g/d','Proline, g/d','Serine, g/d','Threonine, g/d','Tryptophan, g/d','Tryosine, g/d','Valine, g/d'][datum.value-1]"}},"color":{"field":"v","type":"quantitative","scale":{"type":"linear","domain":[-0.4,0,0.4],"range":["#0000ff","#ffffff","#ff0000"],"interpolate":"rgb","clamp":true},"legend":null}}},
   {"transform":[{"filter":"datum.s"}],"mark":{"type":"text","font":"Liberation Sans","fontSize":14,"fontWeight":"bold","dy":3},"encoding":{"y":{"field":"r","type":"ordinal","axis":{"orient":"left","labels":false,"title":"A","titleAngle":0,"titleAlign":"right","titleBaseline":"alphabetic","titleX":-4,"titleY":-7,"titleFontSize":15,"titleFontWeight":"bold","titleColor":"#000000","minExtent":0}},"text":{"field":"s"},"color":{"condition":{"test":"datum.v < -0.2","value":"#e6e6cc"},"value":"#ffc61a"}}}
  ],
  "resolve":{"axis":{"y":"independent"}}},
 {"spacing":0,"hconcat":[
  {"spacing":0,"vconcat":[
   {"width":40,"height":139,"data":{"values":[]},"mark":"rect","encoding":{}},
   {"width":40,"height":12,"data":{"name":"key"},"title":{"text":"Color Key","font":"Liberation Sans","fontSize":11,"fontWeight":"bold","offset":4,"dx":4,"anchor":"middle"},"mark":"rect",
    "encoding":{"x":{"field":"lo","type":"quantitative","title":"Value","scale":{"domain":[-0.46,0.46],"nice":false,"zero":false},"axis":{"values":[-0.4,-0.2,0,0.2,0.4],"labelExpr":"datum.value==-0.4?'-0.4':datum.value==0?'0':datum.value==0.4?'0.4':''","ticks":true,"tickSize":3,"tickColor":"#444444","labelFontSize":8.5,"labelPadding":1,"titleFontSize":10.5,"titleFontWeight":"normal","titlePadding":2,"titleColor":"#333333"}},"x2":{"field":"hi"},"color":{"field":"v","type":"quantitative","scale":{"type":"linear","domain":[-0.4,0,0.4],"range":["#0000ff","#ffffff","#ff0000"],"interpolate":"rgb","clamp":true},"legend":null}}}
  ]},
  {"width":224,"height":219,"data":{"name":"B"},"title":{"text":"Amino Acids - Genus","offset":-16,"dx":24},
   "encoding":{"x":{"field":"c","type":"ordinal","title":null,"axis":{"labelAngle":-90,"labelPadding":9,"labelFontSize":8,"labelExpr":"['Bacteroides','Unclassified','Prevotella','Faecalibacterium','Lachnospiraceae_IS','Porphyromonas','Oscillibacter','Parabacteroides','Dialister','Roseburia'][datum.value-1]"}}},
   "layer":[
    {"mark":"rect","encoding":{"y":{"field":"r","type":"ordinal","title":null,"axis":{"orient":"right","labelPadding":10,"labelFontSize":9,"labelExpr":"['Alanine, g/d','Arginine, g/d','Aspartic acid, g/d','Cysteine, g/d','Glutamic acid, g/d','Glycine, g/d','Histidine, g/d','Isoleucine, g/d','Leucine, g/d','Lysine, g/d','Methionine, g/d','Phenylalanine, g/d','Proline, g/d','Serine, g/d','Threonine, g/d','Tryptophan, g/d','Tryosine, g/d','Valine, g/d'][datum.value-1]"}},"color":{"field":"v","type":"quantitative","scale":{"type":"linear","domain":[-0.4,0,0.4],"range":["#0000ff","#ffffff","#ff0000"],"interpolate":"rgb","clamp":true},"legend":null}}},
    {"transform":[{"filter":"datum.s"}],"mark":{"type":"text","font":"Liberation Sans","fontSize":14,"fontWeight":"bold","dy":3},"encoding":{"y":{"field":"r","type":"ordinal","axis":{"orient":"left","labels":false,"title":"B","titleAngle":0,"titleAlign":"right","titleBaseline":"alphabetic","titleX":-5,"titleY":-7,"titleFontSize":15,"titleFontWeight":"bold","titleColor":"#000000","minExtent":0}},"text":{"field":"s"},"color":{"condition":{"test":"datum.v < -0.2","value":"#e6e6cc"},"value":"#ffc61a"}}}
   ],
   "resolve":{"axis":{"y":"independent"}}}
 ]}
]},
{"spacing":9,"vconcat":[
{"spacing":4,"hconcat":[
 {"width":220,"height":216,"data":{"name":"C"},"title":{"text":"Vitamins - Phylum","offset":-17,"dx":20},
  "encoding":{"x":{"field":"c","type":"ordinal","title":null,"axis":{"labelAngle":-90,"labelPadding":9,"labelFontSize":8,"labelExpr":"['Firmicutes','Bacteroidetes','Proteobacteria','Actinobacteria','Verrucomicrobia','Fusobacteria','Synergistetes','Spirochaetes','Tenericutes','Unclassified'][datum.value-1]"}}},
  "layer":[
   {"mark":"rect","encoding":{"y":{"field":"r","type":"ordinal","title":null,"axis":{"orient":"right","labelPadding":9,"labelFontSize":9,"labelExpr":"['Vitamin A, IU/d','ß-carotene, µg/d','Vitamin D, IU/d','Vitamin E, IU/d','Pantothenic acid, mg/d','Thiamin, mg/d','Riboflavin, mg/d','Niacin, mg/d','Folate, mg/d','Vitamin B−6, mg/d','Vitamin B−12, mg/d','Biotin, mg/d','Vitamin C, mg/d','Choline, mg/d','Vitamin K, mg/d'][datum.value-1]"}},"color":{"field":"v","type":"quantitative","scale":{"type":"linear","domain":[-0.4,0,0.4],"range":["#0000ff","#ffffff","#ff0000"],"interpolate":"rgb","clamp":true},"legend":null}}},
   {"transform":[{"filter":"datum.s"}],"mark":{"type":"text","font":"Liberation Sans","fontSize":14,"fontWeight":"bold","dy":3},"encoding":{"y":{"field":"r","type":"ordinal","axis":{"orient":"left","labels":false,"title":"C","titleAngle":0,"titleAlign":"right","titleBaseline":"alphabetic","titleX":-4,"titleY":-10,"titleFontSize":15,"titleFontWeight":"bold","titleColor":"#000000","minExtent":0}},"text":{"field":"s"},"color":{"condition":{"test":"datum.v < -0.2","value":"#e6e6cc"},"value":"#ffc61a"}}}
  ],
  "resolve":{"axis":{"y":"independent"}}},
 {"spacing":0,"hconcat":[
  {"spacing":0,"vconcat":[
   {"width":40,"height":115,"data":{"values":[]},"mark":"rect","encoding":{}},
   {"width":40,"height":12,"data":{"name":"key"},"title":{"text":"Color Key","font":"Liberation Sans","fontSize":11,"fontWeight":"bold","offset":4,"dx":4,"anchor":"middle"},"mark":"rect",
    "encoding":{"x":{"field":"lo","type":"quantitative","title":"Value","scale":{"domain":[-0.46,0.46],"nice":false,"zero":false},"axis":{"values":[-0.4,-0.2,0,0.2,0.4],"labelExpr":"datum.value==-0.4?'-0.4':datum.value==0?'0':datum.value==0.4?'0.4':''","ticks":true,"tickSize":3,"tickColor":"#444444","labelFontSize":8.5,"labelPadding":1,"titleFontSize":10.5,"titleFontWeight":"normal","titlePadding":2,"titleColor":"#333333"}},"x2":{"field":"hi"},"color":{"field":"v","type":"quantitative","scale":{"type":"linear","domain":[-0.4,0,0.4],"range":["#0000ff","#ffffff","#ff0000"],"interpolate":"rgb","clamp":true},"legend":null}}}
  ]},
  {"width":220,"height":216,"data":{"name":"D"},"title":{"text":"Vitamins - Genus","offset":-17,"dx":23},
   "encoding":{"x":{"field":"c","type":"ordinal","title":null,"axis":{"labelAngle":-90,"labelPadding":9,"labelFontSize":8,"labelExpr":"['Bacteroides','Unclassified','Prevotella','Faecalibacterium','Lachnospiraceae_IS','Porphyromonas','Oscillibacter','Parabacteroides','Dialister','Roseburia'][datum.value-1]"}}},
   "layer":[
    {"mark":"rect","encoding":{"y":{"field":"r","type":"ordinal","title":null,"axis":{"orient":"right","labelPadding":8,"labelFontSize":8.7,"labelExpr":"['Vitamin A, IU/d','ß-carotene, µg/d','Vitamin D, IU/d','Vitamin E, IU/d','Pantothenic acid, mg/d','Thiamin, mg/d','Riboflavin, mg/d','Niacin, mg/d','Folate, mg/d','Vitamin B−6, mg/d','Vitamin B−12, mg/d','Biotin, mg/d','Vitamin C, mg/d','Choline, mg/d','Vitamin K, mg/d'][datum.value-1]"}},"color":{"field":"v","type":"quantitative","scale":{"type":"linear","domain":[-0.4,0,0.4],"range":["#0000ff","#ffffff","#ff0000"],"interpolate":"rgb","clamp":true},"legend":null}}},
    {"transform":[{"filter":"datum.s"}],"mark":{"type":"text","font":"Liberation Sans","fontSize":14,"fontWeight":"bold","dy":3},"encoding":{"y":{"field":"r","type":"ordinal","axis":{"orient":"left","labels":false,"title":"D","titleAngle":0,"titleAlign":"right","titleBaseline":"alphabetic","titleX":-7,"titleY":-10,"titleFontSize":15,"titleFontWeight":"bold","titleColor":"#000000","minExtent":0}},"text":{"field":"s"},"color":{"condition":{"test":"datum.v < -0.2","value":"#e6e6cc"},"value":"#ffc61a"}}}
   ],
   "resolve":{"axis":{"y":"independent"}}}
 ]}
]},
{"spacing":21,"hconcat":[
 {"width":220,"height":219,"data":{"name":"E"},"title":{"text":"Minerals - Phylum","offset":-15,"dx":20},
  "encoding":{"x":{"field":"c","type":"ordinal","title":null,"axis":{"labelAngle":-90,"labelPadding":9,"labelFontSize":8,"labelExpr":"['Firmicutes','Bacteroidetes','Proteobacteria','Actinobacteria','Verrucomicrobia','Fusobacteria','Synergistetes','Spirochaetes','Tenericutes','Unclassified'][datum.value-1]"}}},
  "layer":[
   {"mark":"rect","encoding":{"y":{"field":"r","type":"ordinal","title":null,"axis":{"orient":"right","labelPadding":9,"labelFontSize":9,"labelExpr":"['Total Ash, g/d','Calcium, mg/d','Chloride, mg/d','Chromium, mg/d','Copper, mg/d','Iodide, µg/d','Iron, mg/d','Magnesium, mg/d','Manganese, mg/d','Molybdenum, µg/d','Phosphorus, mg/d','Potassium, mg/d','Selenium, µg/d','Sodium, mg/d',''][datum.value-1]"}},"color":{"field":"v","type":"quantitative","scale":{"type":"linear","domain":[-0.4,0,0.4],"range":["#0000ff","#ffffff","#ff0000"],"interpolate":"rgb","clamp":true},"legend":null}}},
   {"transform":[{"filter":"datum.s"}],"mark":{"type":"text","font":"Liberation Sans","fontSize":14,"fontWeight":"bold","dy":3},"encoding":{"y":{"field":"r","type":"ordinal","axis":{"orient":"left","labels":false,"title":"E","titleAngle":0,"titleAlign":"right","titleBaseline":"alphabetic","titleX":-7,"titleY":-13,"titleFontSize":15,"titleFontWeight":"bold","titleColor":"#000000","minExtent":0}},"text":{"field":"s"},"color":{"condition":{"test":"datum.v < -0.2","value":"#e6e6cc"},"value":"#ffc61a"}}}
  ],
  "resolve":{"axis":{"y":"independent"}}},
 {"spacing":1,"hconcat":[
  {"spacing":0,"vconcat":[
   {"width":40,"height":77,"data":{"values":[]},"mark":"rect","encoding":{}},
   {"width":40,"height":12,"data":{"name":"key"},"title":{"text":"Color Key","font":"Liberation Sans","fontSize":11,"fontWeight":"bold","offset":4,"dx":4,"anchor":"middle"},"mark":"rect",
    "encoding":{"x":{"field":"lo","type":"quantitative","title":"Value","scale":{"domain":[-0.46,0.46],"nice":false,"zero":false},"axis":{"values":[-0.4,-0.2,0,0.2,0.4],"labelExpr":"datum.value==-0.4?'-0.4':datum.value==0?'0':datum.value==0.4?'0.4':''","ticks":true,"tickSize":3,"tickColor":"#444444","labelFontSize":8.5,"labelPadding":1,"titleFontSize":10.5,"titleFontWeight":"normal","titlePadding":2,"titleColor":"#333333"}},"x2":{"field":"hi"},"color":{"field":"v","type":"quantitative","scale":{"type":"linear","domain":[-0.4,0,0.4],"range":["#0000ff","#ffffff","#ff0000"],"interpolate":"rgb","clamp":true},"legend":null}}}
  ]},
  {"width":221,"height":219,"data":{"name":"F"},"title":{"text":"Minerals - Genus","offset":-15,"dx":22},
   "encoding":{"x":{"field":"c","type":"ordinal","title":null,"axis":{"labelAngle":-90,"labelPadding":9,"labelFontSize":8,"labelExpr":"['Bacteroides','Unclassified','Prevotella','Faecalibacterium','Lachnospiraceae_IS','Porphyromonas','Oscillibacter','Parabacteroides','Dialister','Roseburia'][datum.value-1]"}}},
   "layer":[
    {"mark":"rect","encoding":{"y":{"field":"r","type":"ordinal","title":null,"axis":{"orient":"right","labelPadding":10,"labelFontSize":9,"labelExpr":"['Total Ash, g/d','Calcium, mg/d','Chloride, mg/d','Chromium, mg/d','Copper, mg/d','Iodide, µg/d','Iron, mg/d','Magnesium, mg/d','Manganese, mg/d','Molybdenum, µg/d','Phosphorus, mg/d','Potassium, mg/d','Selenium, µg/d','Sodium, mg/d',''][datum.value-1]"}},"color":{"field":"v","type":"quantitative","scale":{"type":"linear","domain":[-0.4,0,0.4],"range":["#0000ff","#ffffff","#ff0000"],"interpolate":"rgb","clamp":true},"legend":null}}},
    {"transform":[{"filter":"datum.s"}],"mark":{"type":"text","font":"Liberation Sans","fontSize":14,"fontWeight":"bold","dy":3},"encoding":{"y":{"field":"r","type":"ordinal","axis":{"orient":"left","labels":false,"title":"F","titleAngle":0,"titleAlign":"right","titleBaseline":"alphabetic","titleX":-8,"titleY":-13,"titleFontSize":15,"titleFontWeight":"bold","titleColor":"#000000","minExtent":0}},"text":{"field":"s"},"color":{"condition":{"test":"datum.v < -0.2","value":"#e6e6cc"},"value":"#ffc61a"}}}
   ],
   "resolve":{"axis":{"y":"independent"}}}
 ]}
]}
]}
]
}
